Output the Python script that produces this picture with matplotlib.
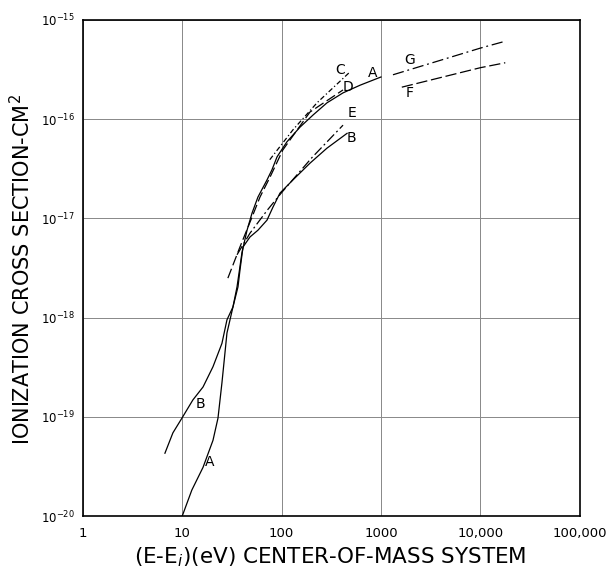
import numpy as np
import matplotlib
matplotlib.use("Agg")
import matplotlib.pyplot as plt

# curve values (energy in eV, cross section in cm^2)
a_x = [10, 12.5, 16.2, 20.4, 22.9, 25.1, 28.2, 32.4, 35.6, 39.9, 44.9, 50.4,
       57.8, 71.3, 80, 90, 113, 153, 207, 286, 415, 617, 1000]
a_y = [1.0e-20, 1.83e-20, 3.1e-20, 5.8e-20, 9.7e-20, 2.2e-19, 7e-19, 1.28e-18,
       2.04e-18, 4.5e-18, 7.6e-18, 1.13e-17, 1.64e-17, 2.44e-17, 3.09e-17,
       4.17e-17, 5.9e-17, 8.3e-17, 1.1e-16, 1.46e-16, 1.84e-16, 2.2e-16, 2.66e-16]

b_x = [6.7, 8.06, 9.93, 12.8, 16.2, 20.4, 25.1, 28.2, 32.4, 36.4, 38.1, 40.9,
       48.1, 57.8, 71.3, 81.9, 96.4, 130, 193, 286, 456]
b_y = [4.3e-20, 6.9e-20, 9.7e-20, 1.48e-19, 2.0e-19, 3.2e-19, 5.5e-19, 9.5e-19,
       1.28e-18, 2.04e-18, 3.0e-18, 5.15e-18, 6.5e-18, 7.6e-18, 9.6e-18,
       1.3e-17, 1.8e-17, 2.44e-17, 3.6e-17, 5.1e-17, 7.2e-17]

c_x = [76, 130, 227, 489]
c_y = [3.9e-17, 7.8e-17, 1.46e-16, 3.0e-16]

d_x = [28.8, 38.1, 50.4, 60.6, 76.4, 103, 193, 415]
d_y = [2.5e-18, 5.15e-18, 1.03e-17, 1.64e-17, 2.6e-17, 4.9e-17, 1.18e-16, 1.97e-16]

e_x = [35.6, 48.1, 71.3, 101, 202, 415]
e_y = [4.3e-18, 7.1e-18, 1.2e-17, 1.84e-17, 4.1e-17, 8.7e-17]

f_x = [1620, 10000, 17800]
f_y = [2.1e-16, 3.3e-16, 3.7e-16]

g_x = [1320, 10000, 17800]
g_y = [2.8e-16, 5.2e-16, 6.1e-16]

labels = ["C", "D", "A", "E", "B", "G", "F", "B", "A"]
label_x = [387, 467, 832, 512, 500, 1963, 1963, 15.1, 19.0]
label_y = [3.13e-16, 2.11e-16, 2.92e-16, 1.15e-16, 6.45e-17, 3.95e-16, 1.84e-16,
           1.35e-19, 3.5e-20]

x_ticks = [1, 10, 100, 1000, 10000, 100000]
x_tick_labels = ["1", "10", "100", "1000", "10,000", "100,000"]
y_ticks = [1e-20, 1e-19, 1e-18, 1e-17, 1e-16, 1e-15]
y_tick_labels = ["$10^{-20}$", "$10^{-19}$", "$10^{-18}$", "$10^{-17}$",
                 "$10^{-16}$", "$10^{-15}$"]

fig = plt.figure(figsize=(6.09, 5.69), dpi=100)
ax = fig.add_axes([0.136, 0.093, 0.816, 0.872])
ax.set_xscale("log")
ax.set_yscale("log")
ax.set_xlim(1, 1e5)
ax.set_ylim(1e-20, 1e-15)

lw = 0.9
ax.plot(a_x, a_y, color="black", lw=lw)
ax.plot(b_x, b_y, color="black", lw=lw)
ax.plot(c_x, c_y, color="black", lw=lw, dashes=(4, 2, 1, 2))
ax.plot(d_x, d_y, color="black", lw=lw, dashes=(8, 3))
ax.plot(e_x, e_y, color="black", lw=lw, dashes=(8, 2.5, 1.5, 2.5))
ax.plot(f_x, f_y, color="black", lw=lw, dashes=(9, 3))
ax.plot(g_x, g_y, color="black", lw=lw, dashes=(9, 3, 1.5, 3))

for t, lx, ly in zip(labels, label_x, label_y):
    ax.text(lx, ly, t, fontsize=10, ha="center", va="center")

ax.set_xticks(x_ticks)
ax.set_xticklabels(x_tick_labels)
ax.set_yticks(y_ticks)
ax.set_yticklabels(y_tick_labels)
ax.minorticks_off()
ax.tick_params(axis="x", length=0, labelsize=9.5, pad=8)
ax.tick_params(axis="y", length=0, labelsize=8.5, pad=6)
ax.grid(True, color="#888888", lw=0.7)
for s in ax.spines.values():
    s.set_linewidth(1.2)

fig.text(0.542, 0.02, "(E-E$_i$)(eV) CENTER-OF-MASS SYSTEM", fontsize=15.5,
         ha="center", va="center")
fig.text(0.036, 0.527, "IONIZATION CROSS SECTION-CM$^2$", fontsize=15,
         ha="center", va="center", rotation=90)

fig.savefig("out.png", dpi=100)
